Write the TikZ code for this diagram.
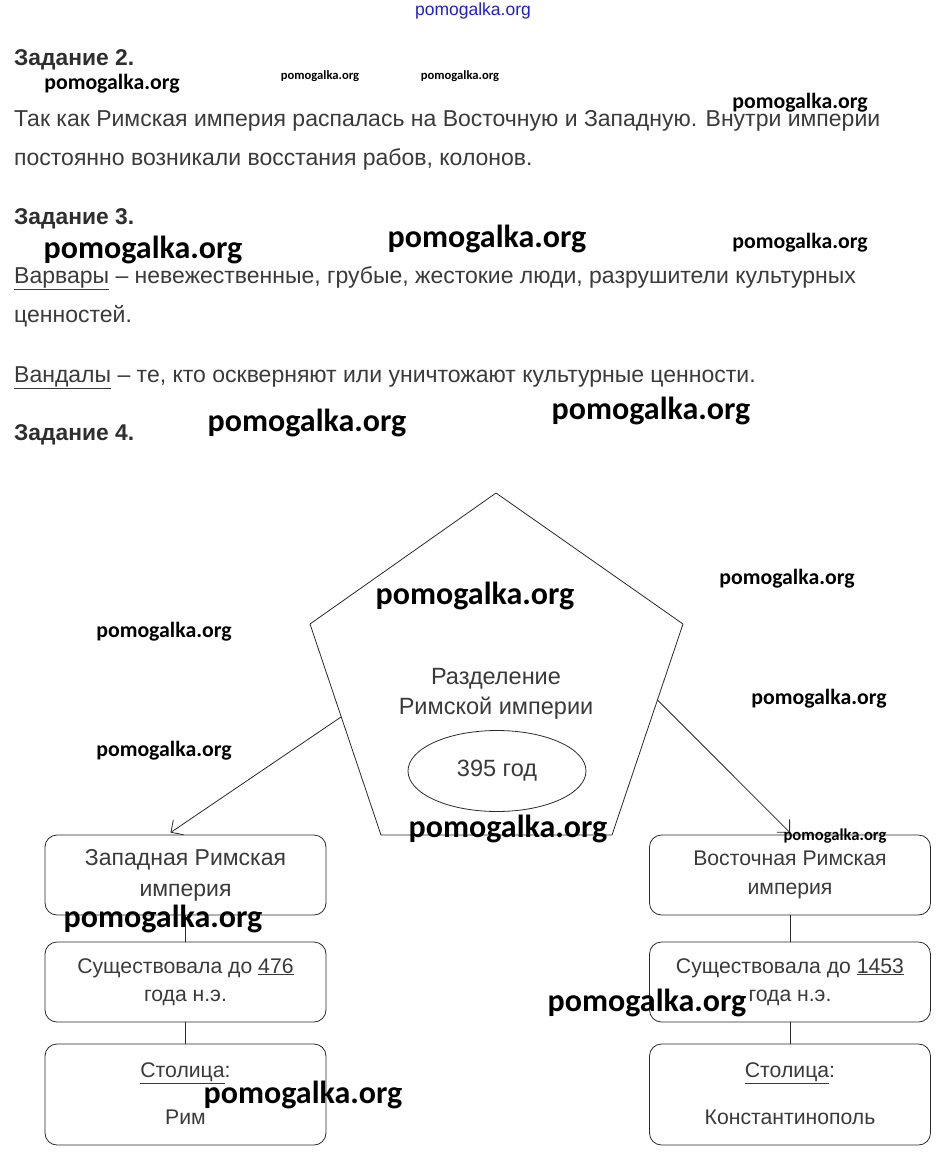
\documentclass[tikz,border=0pt]{standalone}
\usepackage{fontspec}
\setmainfont{Liberation Sans}
\newfontfamily\wmfont{Carlito}
\usetikzlibrary{shapes.geometric,arrows.meta,calc}
\definecolor{txt}{HTML}{3A3A3A}
\definecolor{ln}{HTML}{2A2A2A}
\definecolor{wmblue}{HTML}{2020D0}
\begin{document}
\begin{tikzpicture}[x=1pt,y=-1pt,
  body/.style={anchor=base west, inner sep=0pt, text=txt, font=\fontsize{23}{26}\selectfont},
  head/.style={anchor=base west, inner sep=0pt, text=txt!80!black, font=\fontsize{22.8}{26}\selectfont\bfseries},
  box/.style={draw=ln, line width=0.8pt, rounded corners=12pt, minimum width=281pt, minimum height=80pt, align=center, text=txt, font=\fontsize{21.2}{28.5}\selectfont},
  link/.style={draw=ln, line width=0.8pt},
  arr/.style={link, -{Straight Barb[length=9pt,width=18pt,line width=0.8pt]}},
  wmb/.style={anchor=mid, inner sep=0pt, font=\wmfont\bfseries\fontsize{32}{32}\selectfont, yshift=-5pt},
  wmm/.style={anchor=mid, inner sep=0pt, font=\wmfont\bfseries\fontsize{21.8}{22}\selectfont, yshift=-3pt},
  wmx/.style={anchor=mid, inner sep=0pt, font=\wmfont\bfseries\fontsize{16.6}{17}\selectfont, yshift=-2pt},
  wms/.style={anchor=mid, inner sep=0pt, font=\wmfont\bfseries\fontsize{12.6}{13}\selectfont, yshift=-2pt}
]
\useasboundingbox[fill=white] (0,0) rectangle (945,1156);

% top blue mark
\node[anchor=mid, inner sep=0pt, text=wmblue, font=\fontsize{17.5}{17.5}\selectfont] (wtop) at (473,13) {pomogalka.org};

% text
\node[head] (h2) at (14,66) {Задание 2.};
\node[body] (t1) at (14,126) {Так как Римская империя распалась на Восточную и Западную. Внутри империи};
\node[body] (t2) at (14,165) {постоянно возникали восстания рабов, колонов.};
\node[head] (h3) at (14,224) {Задание 3.};
\node[body] (t3) at (14,283) {\underline{Варвары} – невежественные, грубые, жестокие люди, разрушители культурных};
\node[body] (t4) at (14,322) {ценностей.};
\node[body] (t5) at (14,382) {\underline{Вандалы} – те, кто оскверняют или уничтожают культурные ценности.};
\node[head] (h4) at (14,440) {Задание 4.};

% pentagon
\coordinate (pT) at (496,493);
\coordinate (pUR) at (683,624);
\coordinate (pLR) at (612,835);
\coordinate (pLL) at (381,835);
\coordinate (pUL) at (310,624);
\draw[link] (pT) -- (pUR) -- (pLR) -- (pLL) -- (pUL) -- cycle;
\node[inner sep=0pt, align=center, text=txt, font=\fontsize{23.5}{30}\selectfont] (ptext) at (496,694) {Разделение\\Римской империи};
\node[draw=ln, line width=0.8pt, ellipse, minimum width=178pt, minimum height=81pt, inner sep=0pt, text=txt, font=\fontsize{23.5}{26}\selectfont] (year) at (497,771) {\raisebox{4pt}{395 год}};

% boxes
\node[box, font=\fontsize{23}{31}\selectfont] (w1) at (185.5,875) {Западная Римская\\империя};
\node[box] (w2) at (185.5,982) {Существовала до \underline{476}\\года н.э.};
\node[box, minimum height=101pt, font=\fontsize{21.2}{47}\selectfont] (w3) at (185.5,1094.5) {\raisebox{2pt}{\underline{Столица}:}\\\raisebox{2pt}{Рим}};
\node[box] (e1) at (790,875) {Восточная Римская\\империя};
\node[box] (e2) at (790,982) {Существовала до \underline{1453}\\года н.э.};
\node[box, minimum height=101pt, font=\fontsize{21.2}{47}\selectfont] (e3) at (790,1094.5) {\raisebox{2pt}{\underline{Столица}:}\\\raisebox{2pt}{Константинополь}};

\draw[link] (w1) -- (w2);
\draw[link] (w2) -- (w3);
\draw[link] (e1) -- (e2);
\draw[link] (e2) -- (e3);

\coordinate (aL) at ($(pUL)!0.44!(pLL)$);
\coordinate (aR) at ($(pUR)!0.36!(pLR)$);
\draw[arr] (aL) -- ($(w1.north)+(-15,-2)$);
\draw[arr] (aR) -- ($(e1.north)+(0,-2)$);

% watermarks
\node[wmm] (m1) at (112,84) {pomogalka.org};
\node[wms] (m2) at (320,75) {pomogalka.org};
\node[wms] (m3) at (460,75) {pomogalka.org};
\node[wmm] (m4) at (800,103) {pomogalka.org};
\node[wmb] (m5) at (143,251) {pomogalka.org};
\node[wmb] (m6) at (487,240) {pomogalka.org};
\node[wmm] (m7) at (800,243) {pomogalka.org};
\node[wmb] (m8) at (307,424) {pomogalka.org};
\node[wmb] (m9) at (651,412) {pomogalka.org};
\node[wmb] (m10) at (475,597) {pomogalka.org};
\node[wmm] (m11) at (787,579) {pomogalka.org};
\node[wmm] (m12) at (164,632) {pomogalka.org};
\node[wmm] (m13) at (819,699) {pomogalka.org};
\node[wmm] (m14) at (164,751) {pomogalka.org};
\node[wmb] (m15) at (508,830) {pomogalka.org};
\node[wmx] (m16) at (835,836) {pomogalka.org};
\node[wmb] (m17) at (163,920) {pomogalka.org};
\node[wmb] (m18) at (647,1004) {pomogalka.org};
\node[wmb] (m19) at (303,1096) {pomogalka.org};
\end{tikzpicture}
\end{document}
